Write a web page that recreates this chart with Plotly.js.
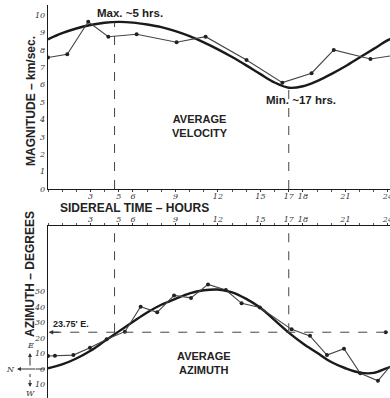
<!DOCTYPE html>
<html>
<head>
<meta charset="utf-8">
<script src="https://cdn.plot.ly/plotly-3.0.1.min.js"></script>
<style>
  html, body { margin: 0; padding: 0; background: #ffffff; }
  #chart { width: 390px; height: 398px; }
</style>
</head>
<body>
<div id="chart"></div>
<script>
// ---------- DATA ----------
// Smooth (fitted) curves, read at whole hours (25 = wrap-around continuation)
const smoothHours = [0,1,2,3,4,5,6,7,8,9,10,11,12,13,14,15,16,17,18,19,20,21,22,23,24,25];
const velocitySmooth = [8.6,8.95,9.22,9.42,9.55,9.6,9.56,9.45,9.3,9.07,8.78,8.42,8.02,7.58,7.1,6.6,6.12,5.82,5.9,6.2,6.6,7.05,7.55,8.05,8.55,8.95];
const azimuthSmooth = [0.5,3,6.8,11.8,18,24.3,30.5,36.5,41.5,45.3,48.8,50.8,51.3,49.5,45.3,39.5,31.5,23.5,16.5,10.5,4.5,0.5,-2.3,-2.5,0.8,3.5];

// Observed values (polyline with dots)
const velocityObsHours = [0,1.36,2.84,4.26,6.26,9.08,11.13,14.02,16.55,18.61,20.18,22.77,24.3];
const velocityObs = [7.55,7.74,9.61,8.75,8.89,8.43,8.75,7.41,6.11,6.65,7.99,7.47,7.66];
const azimuthObsHours = [0,0.49,1.79,2.96,4.14,5.43,6.54,7.71,8.9,10.1,11.3,12.56,13.67,14.96,17.2,18.5,19.7,20.9,22.05,23.3,24.3];
const azimuthObs = [8.4,8.5,9.0,13.7,19.2,24.1,40.2,36.6,47.5,45.9,54.6,51,42.4,39.7,25.6,21.4,9,13.1,-2.8,-7.6,3.3];

// Ticks
const hourTickVals = [3,5,6,9,12,15,17,18,21,24];
const hourTickText = ['3','5','6','9','12','15','17','18','21','24'];
const velTickVals = [0,1,2,3,4,5,6,7,8,9,10];
const velTickText = ['0','1','2','3','4','5','6','7','8','9','10'];
const azTickVals = [-10,0,10,20,30,40,50];
const azTickText = ['10','0','10','20','30','40','50'];

// Reference values
const maxHour = 4.7, maxVelocity = 9.58;
const minHour = 17, minVelocity = 5.82;
const meanAzimuth = 23.75, meanLineEnd = 23.85;

// ---------- LAYOUT HELPERS ----------
const W = 390, H = 398, ML = 48, MT = 5;
const px2x = p => (p - ML) / (W - ML);
const py2y = p => (H - p) / (H - MT);

const ink = '#1a1a1a';
const sans = 'Liberation Sans, Arial, sans-serif';
const serif = 'DejaVu Serif, Liberation Serif, serif';
const tickFont = {family: serif, size: 8, color: '#333', style: 'italic'};

const traces = [
  {x: smoothHours, y: velocitySmooth, xaxis: 'x', yaxis: 'y', mode: 'lines',
   line: {color: ink, width: 2.4, shape: 'spline', smoothing: 1}, hoverinfo: 'skip'},
  {x: velocityObsHours, y: velocityObs, xaxis: 'x', yaxis: 'y', mode: 'lines+markers',
   line: {color: '#444', width: 1.1}, marker: {color: '#222', size: 4}, hoverinfo: 'skip'},
  {x: smoothHours, y: azimuthSmooth, xaxis: 'x2', yaxis: 'y2', mode: 'lines',
   line: {color: ink, width: 2.4, shape: 'spline', smoothing: 1}, hoverinfo: 'skip'},
  {x: azimuthObsHours, y: azimuthObs, xaxis: 'x2', yaxis: 'y2', mode: 'lines+markers',
   line: {color: '#444', width: 1.1}, marker: {color: '#222', size: 4}, hoverinfo: 'skip'},
  {x: [meanLineEnd], y: [meanAzimuth], xaxis: 'x2', yaxis: 'y2', mode: 'markers',
   marker: {color: '#222', size: 4}, hoverinfo: 'skip'}
];

const dash = {color: '#444', width: 1, dash: 'dash'};
const shapes = [
  {type: 'line', xref: 'x', yref: 'y', x0: maxHour, x1: maxHour, y0: 0, y1: maxVelocity, line: dash},
  {type: 'line', xref: 'x', yref: 'y', x0: minHour, x1: minHour, y0: 0, y1: minVelocity, line: dash},
  {type: 'line', xref: 'x2', yref: 'y2', x0: maxHour, x1: maxHour, y0: meanAzimuth, y1: 92.3, line: dash},
  {type: 'line', xref: 'x2', yref: 'y2', x0: minHour, x1: minHour, y0: meanAzimuth, y1: 92.3, line: dash},
  {type: 'line', xref: 'x2', yref: 'y2', x0: 0.3, x1: meanLineEnd, y0: meanAzimuth, y1: meanAzimuth, line: dash},
  // N line to axis
  {type: 'line', xref: 'paper', yref: 'paper', x0: px2x(36), x1: px2x(45), y0: py2y(369), y1: py2y(369), line: {color: '#333', width: 1}},
  // W dashed arrow shaft
  {type: 'line', xref: 'paper', yref: 'paper', x0: px2x(30), x1: px2x(30), y0: py2y(374), y1: py2y(384), line: {color: '#333', width: 1, dash: 'dot'}}
];

const boldFont = (s) => ({family: sans, size: s, color: '#222', weight: 'bold'});
const ann = (text, px, py, size, extra) => Object.assign({
  text, xref: 'paper', yref: 'paper', x: px2x(px), y: py2y(py),
  showarrow: false, xanchor: 'center', yanchor: 'middle', font: boldFont(size)
}, extra || {});

const annotations = [
  ann('Max. ~5 hrs.', 130, 13, 11.5),
  ann('Min. ~17 hrs.', 301, 100, 11.5),
  ann('AVERAGE<br>VELOCITY', 200, 126, 11),
  ann('AVERAGE<br>AZIMUTH', 204, 363, 11),
  ann('SIDEREAL TIME – HOURS', 134, 208, 12),
  ann('MAGNITUDE – km/sec.', 31, 101, 12, {textangle: -90}),
  ann('AZIMUTH – DEGREES', 30, 274, 12, {textangle: -90}),
  ann("23.75' E.", 71, 324, 9),
  ann('E', 30, 345, 8, {font: {family: serif, size: 8, color: '#333', style: 'italic'}}),
  ann('N', 10, 369, 8, {font: {family: serif, size: 8, color: '#333', style: 'italic'}}),
  ann('W', 30, 393, 8, {font: {family: serif, size: 8, color: '#333', style: 'italic'}}),
  // arrow at left end of the mean azimuth line
  {text: '', xref: 'x2', yref: 'y2', x: 0.05, y: meanAzimuth, ax: 12, ay: 0,
   showarrow: true, arrowhead: 2, arrowsize: 0.9, arrowwidth: 1, arrowcolor: '#333'},
  // E arrow (up)
  {text: '', xref: 'paper', yref: 'paper', x: px2x(30), y: py2y(353), ax: 0, ay: 14,
   showarrow: true, arrowhead: 2, arrowsize: 0.8, arrowwidth: 1, arrowcolor: '#333'},
  // N arrow (left)
  {text: '', xref: 'paper', yref: 'paper', x: px2x(17), y: py2y(369), ax: 20, ay: 0,
   showarrow: true, arrowhead: 2, arrowsize: 0.8, arrowwidth: 1, arrowcolor: '#333'},
  // W arrow (down)
  {text: '', xref: 'paper', yref: 'paper', x: px2x(30), y: py2y(387), ax: 0, ay: -4,
   showarrow: true, arrowhead: 2, arrowsize: 0.8, arrowwidth: 1, arrowcolor: '#333'}
];

const xCommon = {
  range: [0, 24.15], showgrid: false, zeroline: false, showline: true,
  linecolor: ink, linewidth: 1.3, tickmode: 'array', tickvals: hourTickVals, ticktext: hourTickText,
  ticks: 'outside', ticklen: 2, tickcolor: '#333', tickfont: tickFont,
  ticklabeloverflow: 'allow',
  minor: {tickmode: 'linear', tick0: 0, dtick: 1, ticks: 'outside', ticklen: 2, tickcolor: '#555'},
  fixedrange: true
};

const layout = {
  width: W, height: H,
  margin: {l: ML, r: 0, t: MT, b: 0, pad: 0},
  paper_bgcolor: '#ffffff', plot_bgcolor: 'rgba(0,0,0,0)',
  showlegend: false,
  xaxis: Object.assign({}, xCommon, {anchor: 'y', domain: [0, 1], side: 'bottom', ticklabelstandoff: -3}),
  xaxis2: Object.assign({}, xCommon, {anchor: 'y2', domain: [0, 1], side: 'top', ticklabelstandoff: -2}),
  yaxis: {
    domain: [py2y(189), 1], range: [0, 10.57], anchor: 'x',
    showgrid: false, zeroline: false, showline: true, linecolor: ink, linewidth: 1.3,
    tickmode: 'array', tickvals: velTickVals, ticktext: velTickText,
    ticks: '', tickfont: tickFont, fixedrange: true
  },
  yaxis2: {
    domain: [0, py2y(226)], range: [-18.7, 92.3], anchor: 'x2',
    showgrid: false, zeroline: false, showline: true, linecolor: ink, linewidth: 1.3,
    tickmode: 'array', tickvals: azTickVals, ticktext: azTickText,
    ticks: '', tickfont: tickFont, fixedrange: true
  },
  shapes, annotations
};

Plotly.newPlot('chart', traces, layout, {staticPlot: true, displayModeBar: false});
</script>
</body>
</html>
